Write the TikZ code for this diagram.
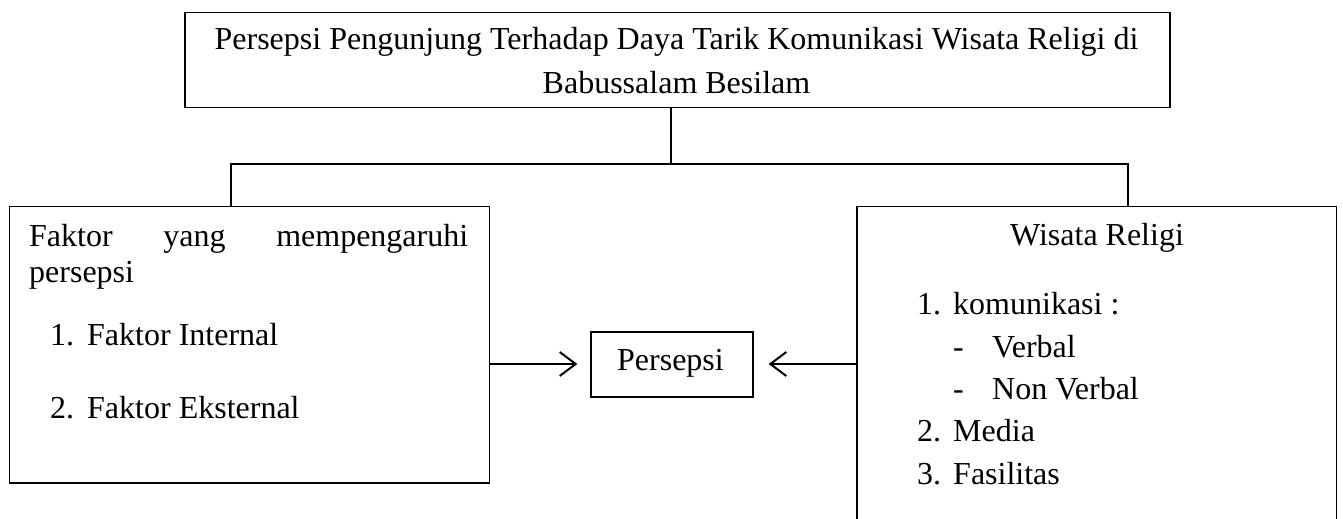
\documentclass[tikz,border=0pt]{standalone}
\usepackage{fontspec}
\setmainfont{Liberation Serif}
\usetikzlibrary{arrows.meta,calc}
\begin{document}
\begin{tikzpicture}[x=1pt,y=-1pt,
  box/.style={draw, line width=1.3pt, rectangle, inner sep=0pt},
  txt/.style={anchor=base west, inner sep=0pt, font=\fontsize{32}{43}\selectfont},
  ctxt/.style={txt, anchor=base},
  conn/.style={line width=1.8pt},
  arr/.style={line width=2pt, -{Straight Barb[length=16pt,width=24pt]}}]
\useasboundingbox (0,0) rectangle (1343,519);
\clip (0,0) rectangle (1343,519);
% boxes
\node[box, minimum width=985pt, minimum height=95pt] (top) at (677.5,60) {};
\node[box, minimum width=480.3pt, minimum height=276.3pt] (left) at (249.4,344.9) {};
\node[box, minimum width=479.5pt, minimum height=353.3pt] (right) at (1096.8,383.35) {};
\node[box, minimum width=162pt, minimum height=65pt] (pers) at (672,364.5) {};
% texts
\node[ctxt] (t1) at (676.5,50) {Persepsi Pengunjung Terhadap Daya Tarik Komunikasi Wisata Religi di};
\node[ctxt] (t2) at (676.5,93) {Babussalam Besilam};
\node[txt] (l1) at (29,246) {\makebox[439pt][s]{Faktor yang mempengaruhi}};
\node[txt] (l2) at (29,282) {persepsi};
\node[txt] (l3n) at (50,345) {1.};
\node[txt] (l3) at (87,345) {Faktor Internal};
\node[txt] (l4n) at (50,418) {2.};
\node[txt] (l4) at (87,418) {Faktor Eksternal};
\node[ctxt] (pt) at (670.5,370) {Persepsi};
\node[ctxt] (r0) at (1097,245) {Wisata Religi};
\node[txt] (r1n) at (917,314) {1.};
\node[txt] (r1) at (953,314) {komunikasi :};
\node[txt] (r2d) at (953,357) {-};
\node[txt] (r2) at (992,357) {Verbal};
\node[txt] (r3d) at (953,399) {-};
\node[txt] (r3) at (992,399) {Non Verbal};
\node[txt] (r4n) at (917,441) {2.};
\node[txt] (r4) at (953,441) {Media};
\node[txt] (r5n) at (917,484) {3.};
\node[txt] (r5) at (953,484) {Fasilitas};
% connectors
\coordinate (jm) at (671,164);
\coordinate (jl) at (231,164);
\coordinate (jr) at (1128,164);
\draw[conn] (top.south -| jm) -- (jm);
\draw[conn] (jl |- left.north) -- (jl) -- (jr) -- (jr |- right.north);
\draw[arr, shorten >=13pt] (left.east |- 0,364) -- (pers.west |- 0,364);
\draw[arr, shorten >=15pt] (right.west |- 0,364) -- (pers.east |- 0,364);
\end{tikzpicture}
\end{document}
